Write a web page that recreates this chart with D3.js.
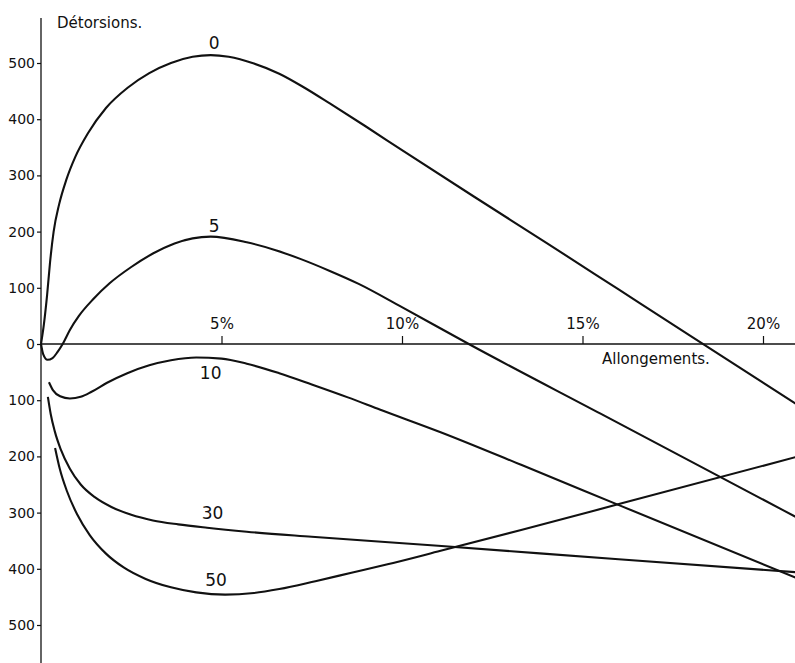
<!DOCTYPE html>
<html>
<head>
<meta charset="utf-8">
<script src="https://cdn.jsdelivr.net/npm/d3@7"></script>
<style>
  body { margin: 0; background: #fff; }
  svg { display: block; }
  text { font-family: "DejaVu Sans", sans-serif; fill: #111; }
</style>
</head>
<body>
<div id="chart"></div>
<script>
// allongements (%) and détorsions
const curve0X = [0, 0.08, 0.17, 0.25, 0.35, 0.5, 0.7, 0.95, 1.3, 1.8, 2.4, 3.0, 3.6, 4.2, 4.7, 5.2, 5.9, 6.6, 7.3, 8.0, 9, 10, 12, 14, 16, 18, 20.92];
const curve0Y = [0, 35, 88, 145, 200, 248, 292, 333, 375, 420, 456, 482, 500, 511, 514, 511, 499, 481, 456, 428, 387, 345, 262, 180, 97, 14, -107];

const curve5X = [0, 0.06, 0.18, 0.32, 0.46, 0.6, 0.8, 1.05, 1.45, 1.9, 2.5, 3.1, 3.7, 4.2, 4.7, 5.7, 6.5, 7.2, 8, 8.8, 9.96, 11.85, 15.5, 20.92];
const curve5Y = [0, -18, -28, -25, -14, 0, 25, 50, 80, 108, 137, 161, 179, 188, 191, 181, 167, 151, 130, 107, 67, 0, -124, -308];

const curve10X = [0.22, 0.33, 0.53, 0.80, 1.1, 1.4, 1.83, 2.39, 3.0, 3.6, 4.3, 5.0, 5.7, 6.6, 7.5, 8.5, 9.4, 11.07, 13.3, 16.06, 20.92];
const curve10Y = [-68, -82, -93, -97, -94, -85, -69, -52, -38, -29, -24, -26, -35, -52, -72, -95, -117, -157, -215, -288, -416];

const curve30X = [0.19, 0.27, 0.38, 0.55, 0.8, 1.1, 1.5, 1.95, 2.5, 3.1, 3.8, 4.6, 5.7, 7.5, 11, 16, 20.92];
const curve30Y = [-94, -125, -155, -188, -222, -250, -273, -290, -304, -314, -321, -327, -334, -343, -359, -383, -406];

const curve50X = [0.39, 0.52, 0.72, 1.0, 1.35, 1.8, 2.3, 2.9, 3.6, 4.3, 5.1, 5.9, 6.6, 7.6, 8.6, 9.6, 11.07, 13.3, 16.06, 20.92];
const curve50Y = [-185, -222, -262, -303, -340, -373, -398, -418, -433, -442, -446, -443, -436, -422, -407, -392, -368, -331, -284, -201];

const curveNames = ["0", "5", "10", "30", "50"];
// where each curve number sits (x in %, y in détorsions)
const nameX = [4.8, 4.8, 4.7, 4.75, 4.85];
const nameY = [535, 210, -52, -300, -420];

const xTicks = [5, 10, 15, 20];
const yTicks = [-500, -400, -300, -200, -100, 0, 100, 200, 300, 400, 500];

const width = 795, height = 663;

const svg = d3.select("#chart").append("svg")
    .attr("width", width)
    .attr("height", height);

const x = d3.scaleLinear().domain([0, 20]).range([41, 763]);
const y = d3.scaleLinear().domain([0, 500]).range([344, 63]);

// axes lines
svg.append("line")
    .attr("x1", x(0)).attr("x2", x(0))
    .attr("y1", y(580)).attr("y2", y(-570))
    .attr("stroke", "#111").attr("stroke-width", 1.3);
svg.append("line")
    .attr("x1", x(0)).attr("x2", width)
    .attr("y1", y(0)).attr("y2", y(0))
    .attr("stroke", "#111").attr("stroke-width", 1.3);

// y ticks
const yAxis = svg.append("g")
    .attr("transform", `translate(${x(0)},0)`)
    .call(d3.axisLeft(y).tickValues(yTicks).tickFormat(d => Math.abs(d)).tickSize(4).tickPadding(2));
yAxis.select(".domain").remove();
yAxis.selectAll("line").attr("stroke", "#111").attr("stroke-width", 1.2);
yAxis.selectAll("text").attr("font-size", 14).attr("font-family", "DejaVu Sans").attr("fill", "#111");

// x ticks
const xAxis = svg.append("g")
    .attr("transform", `translate(0,${y(0)})`)
    .call(d3.axisTop(x).tickValues(xTicks).tickFormat(d => d + "%").tickSize(8).tickPadding(7));
xAxis.select(".domain").remove();
xAxis.selectAll("line").attr("stroke", "#111").attr("stroke-width", 1.2);
xAxis.selectAll("text").attr("font-size", 15).attr("font-family", "DejaVu Sans").attr("fill", "#111");

// axis titles
svg.append("text")
    .attr("x", 57).attr("y", 28)
    .attr("font-size", 15)
    .text("Détorsions.");
svg.append("text")
    .attr("x", 602).attr("y", 364)
    .attr("font-size", 15)
    .text("Allongements.");

// curves
const series = [
  d3.zip(curve0X, curve0Y),
  d3.zip(curve5X, curve5Y),
  d3.zip(curve10X, curve10Y),
  d3.zip(curve30X, curve30Y),
  d3.zip(curve50X, curve50Y)
];

const line = d3.line()
    .x(d => x(d[0]))
    .y(d => y(d[1]))
    .curve(d3.curveMonotoneX);

svg.selectAll("path.curve")
  .data(series)
  .join("path")
    .attr("class", "curve")
    .attr("d", line)
    .attr("fill", "none")
    .attr("stroke", "#111")
    .attr("stroke-width", 2.1)
    .attr("stroke-linejoin", "round");

svg.selectAll("text.name")
  .data(curveNames)
  .join("text")
    .attr("class", "name")
    .attr("x", (d, i) => x(nameX[i]))
    .attr("y", (d, i) => y(nameY[i]))
    .attr("text-anchor", "middle")
    .attr("dy", "0.36em")
    .attr("font-size", 17)
    .text(d => d);
</script>
</body>
</html>
